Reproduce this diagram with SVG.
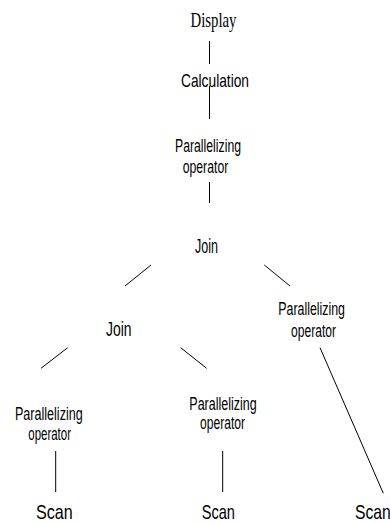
<svg xmlns="http://www.w3.org/2000/svg" width="390" height="524" viewBox="0 0 390 524">
<style>
.s{font-family:"Liberation Sans",Arial,sans-serif;fill:#000}
.b{font-size:21px}
.c{font-size:18.5px}
.p{font-size:17.5px}
.d{font-family:"Liberation Serif","Times New Roman",serif;font-size:21px;fill:#000}
#edges line{stroke:#000;stroke-width:1}
</style>
<rect width="390" height="524" fill="#fff"/>
<g id="edges">
<line x1="209.5" y1="41" x2="209.5" y2="64"/>
<line x1="209.5" y1="86" x2="209.5" y2="119"/>
<line x1="209.5" y1="182" x2="209.5" y2="203"/>
<line x1="151" y1="265" x2="125" y2="286"/>
<line x1="264.3" y1="265" x2="290" y2="286"/>
<line x1="67.7" y1="347.7" x2="41" y2="368.3"/>
<line x1="180.7" y1="347.7" x2="206.7" y2="368.3"/>
<line x1="320" y1="347.7" x2="383.3" y2="493.3"/>
<line x1="55.7" y1="451" x2="55.7" y2="492"/>
<line x1="222.7" y1="451" x2="222.7" y2="492"/>
</g>
<g id="display"><text class="d" x="190.5" y="27" textLength="46" lengthAdjust="spacingAndGlyphs">Display</text></g>
<g id="calculation"><text class="s c" x="181" y="87" textLength="68" lengthAdjust="spacingAndGlyphs">Calculation</text></g>
<g id="par-top"><text class="s p" x="175" y="151.5" textLength="66" lengthAdjust="spacingAndGlyphs">Parallelizing</text><text class="s p" x="182.7" y="173" textLength="45.6" lengthAdjust="spacingAndGlyphs">operator</text></g>
<g id="join-top"><text class="s b" x="195" y="253" textLength="23" lengthAdjust="spacingAndGlyphs">Join</text></g>
<g id="join-mid"><text class="s b" x="106" y="335.5" textLength="25.5" lengthAdjust="spacingAndGlyphs">Join</text></g>
<g id="par-right"><text class="s p" x="278.3" y="314.5" textLength="66.7" lengthAdjust="spacingAndGlyphs">Parallelizing</text><text class="s p" x="291" y="336.5" textLength="45" lengthAdjust="spacingAndGlyphs">operator</text></g>
<g id="par-left"><text class="s p" x="15" y="420" textLength="67.7" lengthAdjust="spacingAndGlyphs">Parallelizing</text><text class="s p" x="28.3" y="440" textLength="42.7" lengthAdjust="spacingAndGlyphs">operator</text></g>
<g id="par-mid"><text class="s p" x="189.3" y="410" textLength="67.4" lengthAdjust="spacingAndGlyphs">Parallelizing</text><text class="s p" x="200" y="429" textLength="45" lengthAdjust="spacingAndGlyphs">operator</text></g>
<g id="scan-left"><text class="s b" x="36" y="519" textLength="36.7" lengthAdjust="spacingAndGlyphs">Scan</text></g>
<g id="scan-mid"><text class="s b" x="201.7" y="519" textLength="33.3" lengthAdjust="spacingAndGlyphs">Scan</text></g>
<g id="scan-right"><text class="s b" transform="translate(355,519) scale(0.75,1)" x="0" y="0">Scan</text></g>
</svg>
